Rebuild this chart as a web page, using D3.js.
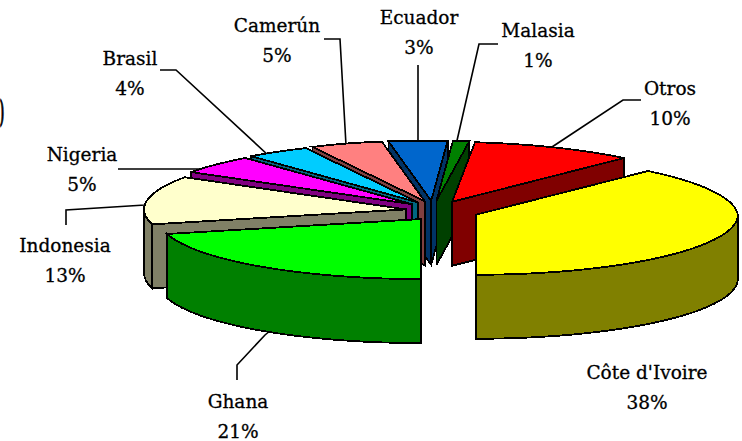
<!DOCTYPE html>
<html>
<head>
<meta charset="utf-8">
<script src="https://cdn.jsdelivr.net/npm/d3@7"></script>
<style>
html, body { margin: 0; padding: 0; background: #fff; overflow: hidden; }
text { font-family: "DejaVu Serif", serif; font-size: 18.5px; fill: #000; stroke: #000; stroke-width: 0.3; text-anchor: middle; }
</style>
</head>
<body>
<div id="chart"></div>
<script>
// data, clockwise from Cote d'Ivoire
const names = ["Côte d'Ivoire", "Ghana", "Indonesia", "Nigeria", "Brasil", "Camerún", "Ecuador", "Malasia", "Otros"];
const shares = [38, 21, 13, 5, 4, 5, 3, 1, 10];
const topColors = ["#FFFF00", "#00FF00", "#FFFFCC", "#FF00FF", "#00CCFF", "#FF8080", "#0066CC", "#008000", "#FF0000"];
const sideColors = ["#808000", "#008000", "#808066", "#800080", "#006680", "#804040", "#003366", "#004000", "#800000"];

// label placement, same order as names: text centre, name baseline
const labelX = [647, 238, 65, 82, 130, 277, 419, 538, 670];
const labelY = [379, 408, 252, 161, 65, 32, 24, 37, 95];
// leader lines: the part away from the pie (null = no leader)
const leaders = [
  null,
  [[237, 380], [237, 365], [265, 335]],
  [[66, 225], [66, 210], [145, 205]],
  [[118, 169], [200, 169]],
  [[160, 70], [176, 70], [268, 155]],
  [[324, 39], [340, 39], [346, 145]],
  [[418, 65], [418, 145]],
  [[498, 44], [479, 44], [456, 145]],
  [[641, 100], [623, 100], [552, 147]]
];

const w = 742, h = 441;
const cx = 432, cy = 211, rx = 262, ry = 60, depth = 64;
const lineHeight = 30;

const svg = d3.select("#chart").append("svg")
  .attr("width", w).attr("height", h).attr("viewBox", [0, 0, w, h])
  .style("display", "block");

// d3.pie with angles starting so that Ghana's edge points straight at the viewer
const startAngle = 43.2 * Math.PI / 180;
const slices = d3.pie().sort(null).startAngle(startAngle).endAngle(startAngle + 2 * Math.PI)(shares);

slices.forEach(s => {
  s.mid = (s.startAngle + s.endAngle) / 2;
  // slices on the left are pulled out less in x, Ghana least
  const ex = Math.sin(s.mid) > 0 ? 0.18 : Math.cos(s.mid) < -0.5 ? 0.07 : 0.1;
  s.ax = cx + ex * rx * Math.sin(s.mid);
  s.ay = cy - 0.17 * ry * Math.cos(s.mid);
  // the thin slice at the top stays upright, otherwise it closes up
  s.upright = Math.sin(s.mid) > 0 && Math.sin(s.mid) < 0.1;
});

// the far rim on the right leans left a bit, the original has some perspective
// (not right at the top, where Ecuador and Malasia meet)
const lean = a => Math.cos(a) <= 0 || Math.abs(Math.sin(a)) < 0.07 ? 0
  : -10 * Math.cos(a) * Math.max(0, Math.min(1, (Math.sin(a) + 0.45) / 0.3));
const rim = (s, a, r = 1) => [s.ax + r * rx * Math.sin(a) + (s.upright ? 0 : r * lean(a)), s.ay - r * ry * Math.cos(a)];
const down = p => [p[0], p[1] + depth];
const line = d3.line();

function arcPoints(s, a0, a1) {
  const n = Math.max(2, Math.ceil((a1 - a0) * 40));
  return d3.range(n + 1).map(i => rim(s, a0 + (a1 - a0) * i / n));
}

// leaders go under the pie, their last bit is hidden by the slice
svg.append("g").selectAll("path")
  .data(slices.filter(s => leaders[s.index]))
  .join("path")
  .attr("d", s => {
    let anchor = rim(s, s.mid, 0.9);
    if (Math.cos(s.mid) < 0) anchor = down(anchor);
    return line([...leaders[s.index], anchor]);
  })
  .attr("fill", "none").attr("stroke", "#000").attr("stroke-width", 1.6);

// back slices first
const order = slices.slice().sort((a, b) => {
  const fa = Math.cos(a.mid) < -0.3 ? 1 : 0, fb = Math.cos(b.mid) < -0.3 ? 1 : 0;
  if (fa != fb) return fa - fb;
  if (fa) return a.index - b.index;
  return Math.abs(Math.sin(a.mid)) - Math.abs(Math.sin(b.mid));
});

const pie3d = svg.append("g")
  .attr("stroke", "#000").attr("stroke-width", 1.8)
  .attr("stroke-linejoin", "miter").attr("shape-rendering", "crispEdges");

order.forEach(s => {
  const g = pie3d.append("g");
  const apex = [s.ax, s.ay];
  const wall = pts => g.append("path").attr("d", line(pts) + "Z").attr("fill", sideColors[s.index]);

  // radial faces, only those turned to the viewer
  if (Math.cos(s.startAngle - Math.PI / 2) < 0) {
    const p = rim(s, s.startAngle);
    wall([apex, p, down(p), down(apex)]);
  }
  if (Math.cos(s.endAngle + Math.PI / 2) < 0) {
    const p = rim(s, s.endAngle);
    wall([apex, p, down(p), down(apex)]);
  }
  // outer face, front half only
  const a0 = Math.max(s.startAngle, Math.PI / 2), a1 = Math.min(s.endAngle, 1.5 * Math.PI);
  if (a1 > a0) {
    const top = arcPoints(s, a0, a1);
    wall([...top, ...top.slice().reverse().map(down)]);
  }
  // top
  g.append("path")
    .attr("d", line([apex, ...arcPoints(s, s.startAngle, s.endAngle)]) + "Z")
    .attr("fill", topColors[s.index]);
});

// labels
const labels = svg.append("g").selectAll("g").data(slices).join("g");
labels.append("text").attr("x", s => labelX[s.index]).attr("y", s => labelY[s.index])
  .text(s => names[s.index]);
labels.append("text").attr("x", s => labelX[s.index]).attr("y", s => labelY[s.index] + lineHeight)
  .text(s => s.data + "%");

// sliver of a bracket at the left edge, squeezed so it stays inside the page
svg.append("text").attr("transform", "translate(0,122) scale(0.3,1)")
  .style("text-anchor", "start").style("font-size", "30px").style("font-weight", "bold")
  .style("stroke-width", 1.5).text(")");
</script>
</body>
</html>
